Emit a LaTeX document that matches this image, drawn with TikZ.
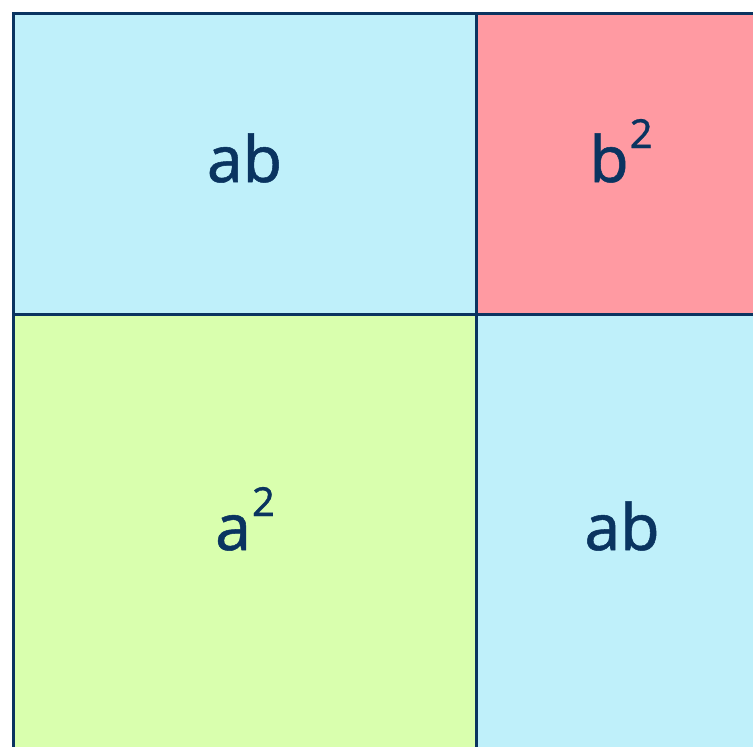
\documentclass[tikz,border=0pt]{standalone}
\usepackage{fontspec}
\setmainfont[FakeBold=0.8]{Noto Sans}
\definecolor{cellblue}{HTML}{BFF0FA}
\definecolor{cellpink}{HTML}{FF9AA2}
\definecolor{cellgreen}{HTML}{D9FFAE}
\definecolor{navy}{HTML}{0A3460}
\newcommand{\sqr}[1]{#1\kern1pt\raisebox{34pt}{\fontsize{40}{42}\selectfont 2}}
\tikzset{
    gridline/.style={draw=navy, line width=3pt},
    lbl/.style={text=navy, inner sep=0pt, anchor=base, font=\fontsize{64}{70}\selectfont},
}
\begin{document}
\begin{tikzpicture}[x=1pt, y=-1pt]
    \useasboundingbox (0,0) rectangle (753,747);
    \clip (0,0) rectangle (753,747);
    % Corners of the big square
    \coordinate (TL) at (13,13);
    \coordinate (M) at (476,314);
    \coordinate (BR) at (766,777);
    
    % Cells
    \fill[cellblue] (TL) rectangle (M);
    \fill[cellpink] (M |- TL) rectangle (BR |- M);
    \fill[cellgreen] (TL |- M) rectangle (M |- BR);
    \fill[cellblue] (M) rectangle (BR);
    
    % Grid lines
    \draw[gridline] (TL) rectangle (BR);
    \draw[gridline] (M |- TL) -- (M |- BR);
    \draw[gridline] (TL |- M) -- (BR |- M);
    
    % Labels
    \node[lbl] (abtop) at (244.5,182) {ab};
    \node[lbl] (bsq) at (621,182) {\sqr{b}};
    \node[lbl] (asq) at (245,550) {\sqr{a}};
    \node[lbl] (abbot) at (622,550) {ab};
\end{tikzpicture}
\end{document}
